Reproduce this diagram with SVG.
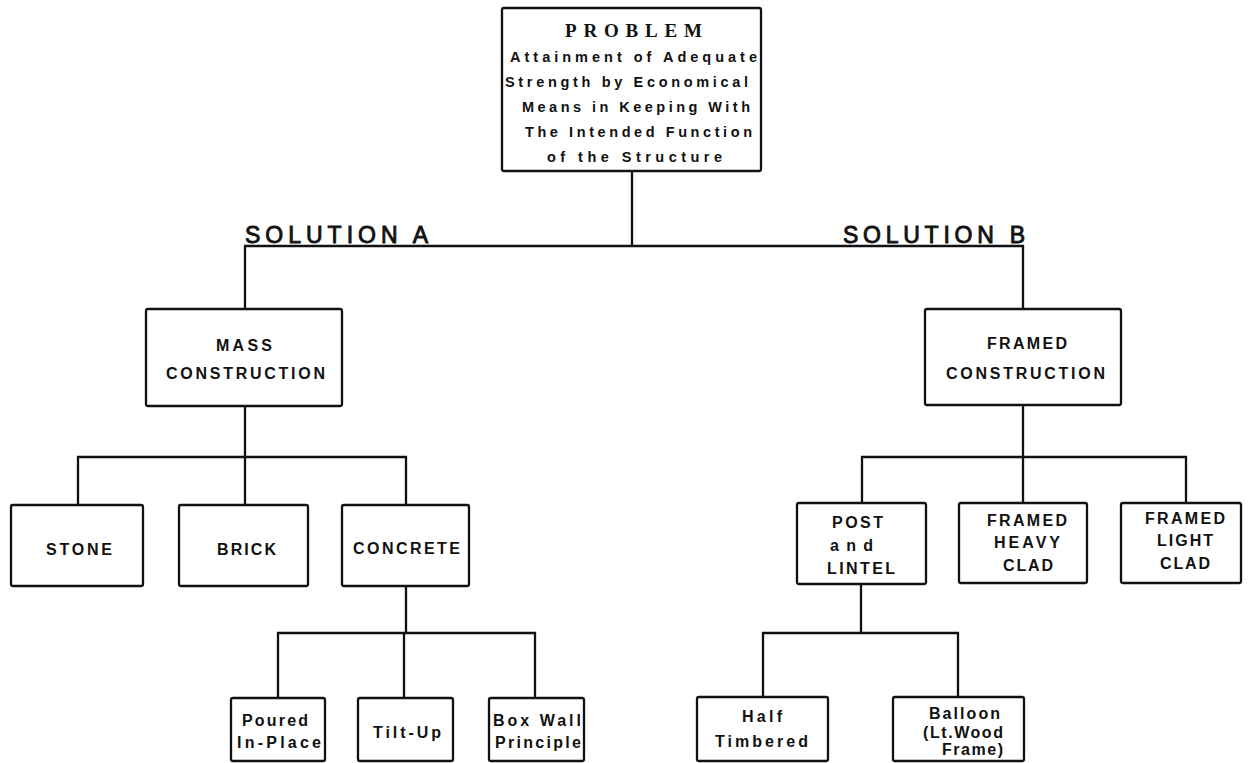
<svg xmlns="http://www.w3.org/2000/svg" width="1248" height="763" viewBox="0 0 1248 763">
<style>
.box{fill:#fff;stroke:#111;stroke-width:2.3}
.ln{fill:none;stroke:#111;stroke-width:2.3;stroke-linejoin:miter}
.t{font-family:"Liberation Sans",Arial,sans-serif;font-weight:bold;font-size:14.5px;fill:#111}
.b{font-family:"Liberation Sans",Arial,sans-serif;font-weight:bold;font-size:16px;fill:#111}
.h{font-family:"Liberation Serif","Times New Roman",serif;font-weight:bold;font-size:19px;fill:#111}
.s{font-family:"Liberation Sans",Arial,sans-serif;font-weight:normal;font-size:23px;fill:#111;stroke:#111;stroke-width:0.9}
</style>
<rect width="1248" height="763" fill="#fff"/>
<g id="connectors">
<path class="ln" d="M632 171V246M245 309V246H1023V309"/>
<path class="ln" d="M245 406V457M78 505V457H406V505M245 457V505"/>
<path class="ln" d="M406 586V633M278 698V633H535V698M404 633V698"/>
<path class="ln" d="M1023 405V457M862 503V457H1186V503M1023 457V503"/>
<path class="ln" d="M861 584V633M763 697V633H958V697"/>
</g>
<g id="label-solution-a"><text class="s" x="245" y="243" textLength="183" lengthAdjust="spacing">SOLUTION A</text></g>
<g id="label-solution-b"><text class="s" x="843" y="243" textLength="182" lengthAdjust="spacing">SOLUTION B</text></g>
<g id="problem">
<rect class="box" x="502" y="8" width="259" height="163" rx="2"/>
<text class="h" x="565" y="37" textLength="137" lengthAdjust="spacing">PROBLEM</text>
<text class="t" x="510" y="62" textLength="247" lengthAdjust="spacing">Attainment of Adequate</text>
<text class="t" x="505" y="87" textLength="243" lengthAdjust="spacing">Strength by Economical</text>
<text class="t" x="522" y="112" textLength="228" lengthAdjust="spacing">Means in Keeping With</text>
<text class="t" x="525" y="137" textLength="227" lengthAdjust="spacing">The Intended Function</text>
<text class="t" x="547" y="162" textLength="175" lengthAdjust="spacing">of the Structure</text>
</g>
<g id="mass">
<rect class="box" x="146" y="309" width="196" height="97" rx="2"/>
<text class="b" x="216" y="351" textLength="56" lengthAdjust="spacing">MASS</text>
<text class="b" x="166" y="379" textLength="159" lengthAdjust="spacing">CONSTRUCTION</text>
</g>
<g id="framed">
<rect class="box" x="925" y="309" width="196" height="96" rx="2"/>
<text class="b" x="987" y="349" textLength="80" lengthAdjust="spacing">FRAMED</text>
<text class="b" x="946" y="379" textLength="159" lengthAdjust="spacing">CONSTRUCTION</text>
</g>
<g id="stone">
<rect class="box" x="11" y="505" width="132" height="81" rx="2"/>
<text class="b" x="46" y="555" textLength="66" lengthAdjust="spacing">STONE</text>
</g>
<g id="brick">
<rect class="box" x="179" y="505" width="129" height="81" rx="2"/>
<text class="b" x="217" y="555" textLength="59" lengthAdjust="spacing">BRICK</text>
</g>
<g id="concrete">
<rect class="box" x="342" y="505" width="127" height="81" rx="2"/>
<text class="b" x="353" y="554" textLength="107" lengthAdjust="spacing">CONCRETE</text>
</g>
<g id="poured">
<rect class="box" x="231" y="698" width="94" height="63" rx="2"/>
<text class="b" x="242" y="726" textLength="66" lengthAdjust="spacing">Poured</text>
<text class="b" x="237" y="748" textLength="84" lengthAdjust="spacing">In-Place</text>
</g>
<g id="tiltup">
<rect class="box" x="358" y="698" width="95" height="63" rx="2"/>
<text class="b" x="373" y="738" textLength="68" lengthAdjust="spacing">Tilt-Up</text>
</g>
<g id="boxwall">
<rect class="box" x="489" y="698" width="95" height="63" rx="2"/>
<text class="b" x="493" y="726" textLength="88" lengthAdjust="spacing">Box Wall</text>
<text class="b" x="495" y="748" textLength="86" lengthAdjust="spacing">Principle</text>
</g>
<g id="post">
<rect class="box" x="797" y="503" width="129" height="81" rx="2"/>
<text class="b" x="832" y="528" textLength="51" lengthAdjust="spacing">POST</text>
<text class="b" x="830" y="551" textLength="43" lengthAdjust="spacing">and</text>
<text class="b" x="827" y="574" textLength="68" lengthAdjust="spacing">LINTEL</text>
</g>
<g id="heavy">
<rect class="box" x="959" y="503" width="128" height="80" rx="2"/>
<text class="b" x="987" y="526" textLength="80" lengthAdjust="spacing">FRAMED</text>
<text class="b" x="994" y="548" textLength="66" lengthAdjust="spacing">HEAVY</text>
<text class="b" x="1003" y="571" textLength="50" lengthAdjust="spacing">CLAD</text>
</g>
<g id="light">
<rect class="box" x="1121" y="503" width="120" height="80" rx="2"/>
<text class="b" x="1145" y="524" textLength="80" lengthAdjust="spacing">FRAMED</text>
<text class="b" x="1157" y="546" textLength="56" lengthAdjust="spacing">LIGHT</text>
<text class="b" x="1160" y="569" textLength="50" lengthAdjust="spacing">CLAD</text>
</g>
<g id="half">
<rect class="box" x="697" y="697" width="131" height="64" rx="2"/>
<text class="b" x="742" y="722" textLength="40" lengthAdjust="spacing">Half</text>
<text class="b" x="715" y="747" textLength="93" lengthAdjust="spacing">Timbered</text>
</g>
<g id="balloon">
<rect class="box" x="893" y="697" width="131" height="64" rx="2"/>
<text class="b" x="929" y="719" textLength="71" lengthAdjust="spacing">Balloon</text>
<text class="b" x="923" y="738" textLength="80" lengthAdjust="spacing">(Lt.Wood</text>
<text class="b" x="942" y="755" textLength="61" lengthAdjust="spacing">Frame)</text>
</g>
</svg>
